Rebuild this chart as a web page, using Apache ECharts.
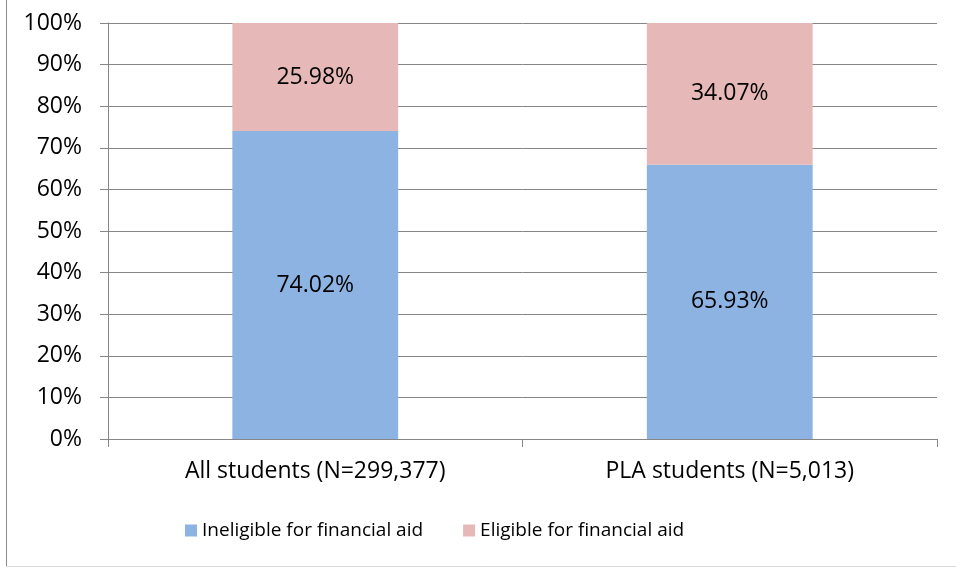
<!DOCTYPE html>
<html>
<head>
<meta charset="utf-8">
<script src="https://cdn.jsdelivr.net/npm/echarts@6/dist/echarts.min.js"></script>
<style>
  html, body { margin: 0; padding: 0; background: #fff; }
  #chart { width: 956px; height: 569px; }
</style>
</head>
<body>
<div id="chart"></div>
<script>
var categories = ['All students (N=299,377)', 'PLA students (N=5,013)'];
var ineligible = [74.02, 65.93];
var eligible = [25.98, 34.07];
var seriesNames = ['Ineligible for financial aid', 'Eligible for financial aid'];

var myChart = echarts.init(document.getElementById('chart'));
var font = '"Open Sans", "Liberation Sans", sans-serif';
var fs = 23;

var option = {
    animation: false,
    textStyle: { fontFamily: font },
    graphic: [{
        type: 'rect',
        shape: { x: 6.5, y: -10, width: 960, height: 576.5 },
        style: { fill: 'none', stroke: '#d9d9d9', lineWidth: 1 }
    }, {
        type: 'line',
        shape: { x1: 6.5, y1: 0, x2: 6.5, y2: 566 },
        style: { stroke: '#8c8c8c', lineWidth: 1 }
    }],
    grid: { left: 108, right: 19, top: 23, bottom: 130, containLabel: false },
    legend: {
        data: seriesNames,
        bottom: 24,
        left: 180,
        itemWidth: 12,
        itemHeight: 12,
        itemGap: 40,
        icon: 'rect',
        textStyle: { fontSize: 19, color: '#000', fontFamily: font }
    },
    xAxis: {
        type: 'category',
        data: categories,
        axisLine: { lineStyle: { color: '#868686', width: 1 } },
        axisTick: { show: true, length: 8, lineStyle: { color: '#868686' } },
        axisLabel: { fontSize: fs, color: '#000', margin: 21, fontFamily: font }
    },
    yAxis: {
        type: 'value',
        min: 0,
        max: 100,
        interval: 10,
        axisLine: { show: true, lineStyle: { color: '#868686', width: 1 } },
        axisTick: { show: true, length: 8, lineStyle: { color: '#868686' } },
        splitLine: { lineStyle: { color: '#868686', width: 1 } },
        axisLabel: { fontSize: fs, color: '#000', margin: 26, formatter: '{value}%', fontFamily: font }
    },
    series: [{
        name: seriesNames[0],
        type: 'bar',
        stack: 'total',
        data: ineligible,
        barWidth: '40%',
        itemStyle: { color: '#8DB3E2' },
        label: { show: true, position: 'inside', fontSize: fs, color: '#000', fontFamily: font, formatter: function (p) { return p.value.toFixed(2) + '%'; } }
    }, {
        name: seriesNames[1],
        type: 'bar',
        stack: 'total',
        data: eligible,
        barWidth: '40%',
        itemStyle: { color: '#E6B9B8' },
        label: { show: true, position: 'inside', fontSize: fs, color: '#000', fontFamily: font, formatter: function (p) { return p.value.toFixed(2) + '%'; } }
    }]
};

myChart.setOption(option);
</script>
</body>
</html>
